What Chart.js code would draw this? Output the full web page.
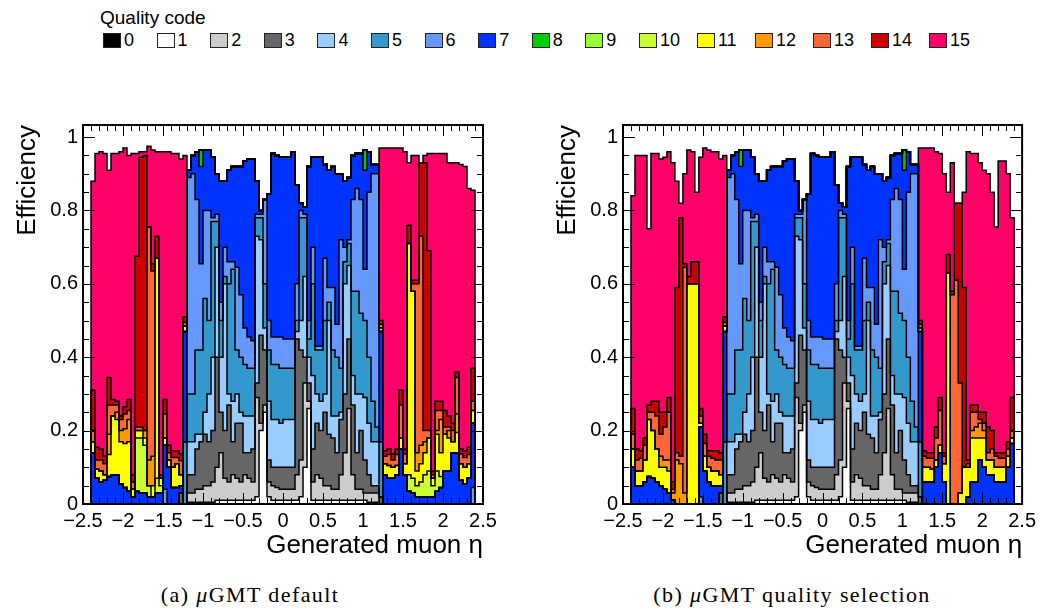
<!DOCTYPE html>
<html><head><meta charset="utf-8">
<script src="https://cdn.jsdelivr.net/npm/chart.js@4.4.1/dist/chart.umd.min.js"></script>
<style>
html,body{margin:0;padding:0;background:#fff;}
body{width:1041px;height:610px;position:relative;overflow:hidden;font-family:'Liberation Sans',Arial,sans-serif;color:#000;}
#legTitle{position:absolute;left:100px;top:8px;font-size:19px;line-height:20px;}
#legRow{position:absolute;left:103px;top:32px;height:17px;display:flex;}
.ent{display:flex;align-items:center;height:17px;}
.box{width:18px;height:15px;border:1px solid #222;box-sizing:border-box;margin-right:3px;}
.lab{font-size:18px;line-height:17px;}
canvas{position:absolute;}
#ca{left:0;top:100px;}
#cb{left:540px;top:100px;}
.cap{position:absolute;top:583px;font-family:'Liberation Serif','Times New Roman',serif;font-size:22px;line-height:24px;letter-spacing:1.4px;white-space:nowrap;transform:translateX(-50%);}
</style></head>
<body>
<div id="legTitle">Quality code</div>
<div id="legRow"></div>
<canvas id="ca" width="520" height="475"></canvas>
<canvas id="cb" width="501" height="475"></canvas>
<div class="cap" style="left:250px">(a) <i>μ</i>GMT default</div>
<div class="cap" style="left:792px">(b) <i>μ</i>GMT quality selection</div>
<script>
// ---- categories: lower edges of the generated-muon eta bins (width 0.05), upper edge of last bin
const binLowEdges = [
  -2.4,-2.35,-2.3,-2.25,-2.2,-2.15,-2.1,-2.05,-2.0,-1.95,-1.9,-1.85,-1.8,-1.75,-1.7,-1.65,-1.6,-1.55,-1.5,-1.45,-1.4,-1.35,-1.3,-1.25,
  -1.2,-1.15,-1.1,-1.05,-1.0,-0.95,-0.9,-0.85,-0.8,-0.75,-0.7,-0.65,-0.6,-0.55,-0.5,-0.45,-0.4,-0.35,-0.3,-0.25,-0.2,-0.15,-0.1,-0.05,
  0.0,0.05,0.1,0.15,0.2,0.25,0.3,0.35,0.4,0.45,0.5,0.55,0.6,0.65,0.7,0.75,0.8,0.85,0.9,0.95,1.0,1.05,1.1,1.15,
  1.2,1.25,1.3,1.35,1.4,1.45,1.5,1.55,1.6,1.65,1.7,1.75,1.8,1.85,1.9,1.95,2.0,2.05,2.1,2.15,2.2,2.25,2.3,2.35];
const etaUpperEdge = 2.4;
const qualityCodes = [0,1,2,3,4,5,6,7,8,9,10,11,12,13,14,15];
const codeColors = ['#000000','#ffffff','#cccccc','#666666','#99ccff','#3399cc','#6699ff','#0033ff',
  '#00cc00','#99ff33','#ccff33','#ffff00','#ff9900','#ff6633','#cc0000','#ff0066'];
const xTickValues = [-2.5,-2,-1.5,-1,-0.5,0,0.5,1,1.5,2,2.5];
const yTickValues = [0,0.2,0.4,0.6,0.8,1];

// ---- efficiency per quality code; rows: left endcap | barrel eta<0 | barrel eta>0 | right endcap
// series shared by both panels
const q0 = [0,0,0,0,0,0,0,0,0,0,0,0,0,0,0,0,0,0,0,0,0,0,0,0,
  0,0,0,0,0,0,0,0,0,0,0,0,0,0,0,0,0,0,0,0,0,0,0,0,
  0,0,0,0,0,0,0,0,0,0,0,0,0,0,0,0,0,0,0,0,0,0,0,0,
  0,0,0,0,0,0,0,0,0,0,0,0,0,0,0,0,0,0,0,0,0,0,0,0];
const q1 = [0,0,0,0,0,0,0,0,0,0,0,0,0,0,0,0,0,0,0,0,0,0,0,0,
  .005,.005,.005,.005,.005,.005,.005,.01,.01,.01,.01,.01,.01,.01,.01,.01,.01,.02,.2,.25,.02,.01,.01,.01,
  .01,.01,.01,.01,.02,.1,.26,.01,.01,.01,.01,.01,.01,.01,.01,.01,.01,.01,.01,.01,.01,.005,.005,.005,
  0,0,0,0,0,0,0,0,0,0,0,0,0,0,0,0,0,0,0,0,0,0,0,0];
const q2 = [0,0,0,0,0,0,0,0,0,0,0,0,0,0,0,0,0,0,0,0,0,0,0,0,
  .025,.025,.035,.035,.045,.045,.055,.09,.13,.06,.05,.07,.06,.05,.07,.06,.05,.27,.02,.02,.04,.04,.035,.03,
  .03,.03,.03,.07,.1,.23,.02,.05,.07,.06,.04,.04,.03,.03,.07,.13,.25,.07,.03,.03,.02,.025,.025,.025,
  0,0,0,0,0,0,0,0,0,0,0,0,0,0,0,0,0,0,0,0,0,0,0,0];
const q3 = [0,0,0,0,0,0,0,0,0,0,0,0,0,0,0,0,0,0,0,0,0,0,.03,0,
  .05,.05,.11,.13,.14,.12,.14,.3,.11,.13,.21,.09,.15,.16,.06,.07,.09,.04,.24,.15,.06,.05,.055,.06,
  .06,.06,.06,.37,.3,.07,.05,.09,.14,.13,.2,.14,.14,.1,.15,.16,.19,.19,.1,.16,.09,.05,.02,.02,
  .02,0,0,0,0,0,0,0,0,0,0,0,0,0,0,0,0,0,0,0,0,0,0,0];
const q4 = [0,0,0,0,0,0,0,0,0,0,0,0,0,0,0,0,0,0,0,0,0,0,0,0,
  .09,.09,.04,.02,.06,.13,.2,.3,.15,.4,.03,.11,.08,.03,.1,.1,.09,.4,.26,.06,.16,.13,.13,.12,
  .13,.13,.13,.02,.08,.22,.07,.2,.08,.08,.05,.31,.06,.1,.02,.3,.2,.08,.16,.1,.17,.14,.12,.12,
  0,0,0,0,0,0,0,0,0,0,0,0,0,0,0,0,0,0,0,0,0,0,0,0];
const q5 = [0,0,0,0,0,0,0,0,0,0,0,0,0,0,0,0,0,0,0,0,0,0,0,.17,
  .13,.13,.23,.23,.31,.2,.37,.07,.1,.02,.3,.36,.12,.15,.14,.13,.13,.05,.06,.12,.14,.15,.15,.15,
  .14,.14,.14,.03,.28,.16,.05,.25,.12,.14,.2,.05,.18,.16,.12,.06,.06,.23,.28,.22,.21,.18,.11,.04,
  .15,0,0,0,0,0,0,0,0,0,0,0,0,0,0,0,0,0,0,0,0,0,0,0];
const q8 = [0,0,0,0,0,0,0,0,0,0,0,0,0,0,0,0,0,0,0,0,0,0,0,0,
  0,0,0,.045,0,0,0,0,0,0,0,0,0,0,0,0,0,0,0,0,0,0,0,0,
  0,0,0,0,0,0,0,0,0,0,0,0,0,0,0,0,0,0,0,0,.055,0,0,0,
  0,0,0,0,0,0,0,0,0,0,0,0,0,0,0,0,0,0,0,0,0,0,0,0];
const q9 = [0,0,0,0,0,0,0,0,0,0,0,0,0,0,0,0,0,0,0,0,0,0,0,0,
  0,0,0,0,0,0,0,0,0,0,0,0,0,0,0,0,0,0,0,0,0,0,0,0,
  0,0,0,0,0,0,0,0,0,0,0,0,0,0,0,0,0,0,0,0,0,0,0,0,
  0,0,0,0,0,0,0,0,0,0,0,0,0,0,0,0,0,0,0,0,0,0,0,0];

// panel (a): uGMT default
const defaultQ6 = [0,0,0,0,0,0,0,0,0,0,0,0,0,0,0,0,0,0,.04,0,0,0,0,0,
  .59,.6,.41,.235,.24,.3,.01,.02,.05,.08,.06,.02,.225,.17,.1,.085,.075,.01,.01,.23,.08,.075,.075,.085,
  .08,.08,.08,.1,.02,.01,.05,.1,.01,.01,.17,.04,.17,.09,.35,.04,.01,.25,.28,.31,.14,.45,.62,.69,
  0,0,0,0,0,0,0,0,0,0,0,0,0,0,0,0,0,0,0,0,0,0,0,.045];
const defaultQ7 = [.14,.07,.06,.065,.075,.08,.08,.055,.045,.035,.02,.035,.03,.03,.02,.02,.03,.03,.12,.1,.045,.045,.02,.3,
  .02,.05,.13,.265,.165,.165,.165,.11,.33,.18,.25,.26,.275,.35,.455,.485,.495,.09,.01,0,.345,.5,.495,.49,
  .495,.495,.51,.27,.02,.02,.42,.245,.515,.515,.255,.32,.33,.41,.18,.18,.17,.12,.095,.125,.27,.11,.025,.025,
  .3,.08,.07,.07,.08,.15,.08,.035,.03,.02,.02,.02,.02,.02,.035,.045,.09,.09,.14,.14,.065,.055,.07,.175];
const defaultQ10 = [0,0,0,0,0,0,0,0,0,0,0,.145,.15,.13,.03,0,.04,.02,0,0,0,0,0,0,
  0,0,0,0,0,0,0,0,0,0,0,0,0,0,0,0,0,0,0,0,0,0,0,0,
  0,0,0,0,0,0,0,0,0,0,0,0,0,0,0,0,0,0,0,0,0,0,0,0,
  0,0,0,0,0,0,0,.045,.04,.03,.04,.06,.07,.03,.055,.03,0,0,0,0,0,0,0,0];
const defaultQ11 = [.03,.025,.03,.015,.06,.16,.15,.115,.12,.135,.02,.02,.02,.02,0,.03,.6,.02,.02,.02,.055,.065,.03,.015,
  0,0,0,0,0,0,0,0,0,0,0,0,0,0,0,0,0,0,0,0,0,0,0,0,
  0,0,0,0,0,0,0,0,0,0,0,0,0,0,0,0,0,0,0,0,0,0,0,0,
  .01,.03,.035,.03,.025,.03,.03,.63,.51,.04,.05,.06,.09,.02,.1,.065,.1,.09,.03,.055,.045,.045,.04,.035];
const defaultQ12 = [0,0,0,0,.055,0,.02,.03,.04,.06,0,0,0,.02,.07,.08,0,0,0,0,0,0,0,0,
  0,0,0,0,0,0,0,0,0,0,0,0,0,0,0,0,0,0,0,0,0,0,0,0,
  0,0,0,0,0,0,0,0,0,0,0,0,0,0,0,0,0,0,0,0,0,0,0,0,
  0,0,0,0,0,0,0,0,0,.05,.05,.03,0,0,.01,.09,0,.02,0,.05,0,0,0,0];
const defaultQ13 = [.03,.025,.03,.03,.08,.03,.02,.03,.04,.025,.02,.01,.01,0,.635,.505,0,0,.065,.02,.027,.017,.038,.01,
  0,0,0,0,0,0,0,0,0,0,0,0,0,0,0,0,0,0,0,0,0,0,0,0,
  0,0,0,0,0,0,0,0,0,0,0,0,0,0,0,0,0,0,0,0,0,0,0,0,
  .01,.02,.03,.02,.03,.09,.026,0,.02,.46,.57,.03,.02,.01,.055,.025,.02,.01,.03,.1,.026,.027,.025,.025];
const defaultQ14 = [.11,.035,.03,.02,.075,.015,.01,.01,.02,.03,.02,.465,.735,.75,0,.02,.06,.01,.04,.02,.018,.018,.018,.015,
  0,0,0,0,0,0,0,0,0,0,0,0,0,0,0,0,0,0,0,0,0,0,0,0,
  0,0,0,0,0,0,0,0,0,0,0,0,0,0,0,0,0,0,0,0,0,0,0,0,
  .01,.015,.015,.016,.015,.04,.014,.05,.01,.01,.2,.73,.49,.01,.025,.025,.045,.03,.02,.015,.014,.018,.02,.09];
const defaultQ15 = [.57,.8,.81,.825,.565,.67,.675,.72,.705,.665,.875,.28,.015,.01,.22,.31,.23,.88,.675,.8,.81,.81,.804,.44,
  0,0,0,0,0,0,0,0,0,0,0,0,0,0,0,0,0,0,0,0,0,0,0,0,
  0,0,0,0,0,0,0,0,0,0,0,0,0,0,0,0,0,0,0,0,0,0,0,0,
  .47,.825,.82,.834,.82,.66,.81,.17,.34,.34,0,.02,.265,.865,.675,.675,.7,.69,.71,.57,.775,.775,.705,.485];

// panel (b): uGMT quality selection
const selectionQ6 = [0,0,0,0,0,0,0,0,0,0,0,0,0,0,0,0,0,.02,0,0,0,0,0,0,
  .59,.6,.41,.235,.24,.3,.01,.02,.05,.08,.06,.02,.225,.17,.1,.085,.075,.01,.01,.23,.08,.075,.075,.085,
  .08,.08,.08,.1,.02,.01,.05,.1,.01,.01,.17,.04,.17,.09,.35,.04,.01,.25,.28,.31,.14,.45,.62,.69,
  0,0,0,0,0,0,0,0,0,0,0,0,0,0,0,0,0,0,0,0,0,0,0,0];
const selectionQ7 = [.1,.05,.05,.06,.075,.07,.06,.05,.04,.03,.01,0,0,0,0,0,0,.19,.09,.06,.05,.05,.02,.3,
  .02,.05,.13,.265,.165,.165,.165,.11,.33,.18,.25,.26,.275,.35,.455,.485,.495,.09,.01,0,.345,.5,.495,.49,
  .495,.495,.51,.27,.02,.02,.42,.245,.515,.515,.255,.32,.33,.41,.18,.18,.17,.12,.095,.125,.27,.11,.025,.025,
  .3,.06,.06,.06,.1,.14,.06,0,0,0,0,0,.02,.06,.06,.12,.1,.08,.08,.06,.06,.06,.1,.165];
const selectionQ10 = [0,0,0,0,0,0,0,0,0,0,0,0,0,0,0,0,0,0,0,0,0,0,0,0,
  0,0,0,0,0,0,0,0,0,0,0,0,0,0,0,0,0,0,0,0,0,0,0,0,
  0,0,0,0,0,0,0,0,0,0,0,0,0,0,0,0,0,0,0,0,0,0,0,0,
  0,0,0,0,0,0,0,0,0,0,0,0,0,0,0,0,0,0,0,0,0,0,0,0];
const selectionQ11 = [.05,.04,.04,.06,.155,.13,.09,.05,.06,.06,0,0,0,0,.6,.6,.6,.01,.04,.04,.04,.04,.03,.015,
  0,0,0,0,0,0,0,0,0,0,0,0,0,0,0,0,0,0,0,0,0,0,0,0,
  0,0,0,0,0,0,0,0,0,0,0,0,0,0,0,0,0,0,0,0,0,0,0,0,
  .01,.04,.04,.035,.02,.02,.05,.63,0,0,.03,.1,.08,.12,.12,.06,.08,.04,.04,.04,.04,.04,.03,.015];
const selectionQ12 = [0,0,0,0,0,0,0,.03,.02,.03,.02,.12,.11,.03,0,0,0,0,0,0,0,0,0,0,
  0,0,0,0,0,0,0,0,0,0,0,0,0,0,0,0,0,0,0,0,0,0,0,0,
  0,0,0,0,0,0,0,0,0,0,0,0,0,0,0,0,0,0,0,0,0,0,0,0,
  0,0,0,0,0,0,0,0,0,0,0,0,0,.02,.03,.04,.02,0,0,0,0,0,0,0];
const selectionQ13 = [.04,.03,.035,.04,.02,.05,.09,.06,.09,.13,.01,.02,.02,.615,0,0,0,.02,.035,.03,.035,.03,.04,.01,
  0,0,0,0,0,0,0,0,0,0,0,0,0,0,0,0,0,0,0,0,0,0,0,0,
  0,0,0,0,0,0,0,0,0,0,0,0,0,0,0,0,0,0,0,0,0,0,0,0,
  .01,.03,.025,.03,.06,.095,.02,0,.57,.61,.3,0,.01,.05,.04,.01,.02,.02,.03,.03,.025,.025,.02,.02];
const selectionQ14 = [.07,.03,.02,.02,.02,.03,.04,.06,.04,.04,.02,.45,.65,.01,.02,.06,.06,.02,.025,.015,.02,.025,.02,.015,
  0,0,0,0,0,0,0,0,0,0,0,0,0,0,0,0,0,0,0,0,0,0,0,0,
  0,0,0,0,0,0,0,0,0,0,0,0,0,0,0,0,0,0,0,0,0,0,0,0,
  .01,.015,.015,.015,.03,.035,.01,.05,.01,.21,.49,.49,.01,.02,.02,.02,.03,.07,.05,.01,.015,.015,.02,.09];
const selectionQ15 = [.58,.8,.805,.77,.48,.675,.675,.69,.695,.67,.87,.29,.04,.245,.345,.3,.19,.685,.78,.82,.815,.815,.8,.44,
  0,0,0,0,0,0,0,0,0,0,0,0,0,0,0,0,0,0,0,0,0,0,0,0,
  0,0,0,0,0,0,0,0,0,0,0,0,0,0,0,0,0,0,0,0,0,0,0,0,
  .47,.825,.83,.83,.75,.665,.76,.17,.35,0,0,.26,.84,.685,.685,.68,.66,.69,.65,.615,.795,.795,.73,.49];

const seriesDefault = [q0,q1,q2,q3,q4,q5,defaultQ6,defaultQ7,q8,q9,defaultQ10,defaultQ11,defaultQ12,defaultQ13,defaultQ14,defaultQ15];
const seriesSelection = [q0,q1,q2,q3,q4,q5,selectionQ6,selectionQ7,q8,q9,selectionQ10,selectionQ11,selectionQ12,selectionQ13,selectionQ14,selectionQ15];

// ---- legend (HTML, built from codes / colours)
const legRow = document.getElementById('legRow');
qualityCodes.forEach((c, k) => {
  const e = document.createElement('div');
  e.className = 'ent';
  e.style.width = (c < 10 ? 53.6 : 58) + 'px';
  e.innerHTML = '<div class="box" style="background:' + codeColors[k] + '"></div><span class="lab">' + c + '</span>';
  legRow.appendChild(e);
});

Chart.defaults.font.family = "'Liberation Sans', Arial, sans-serif";
Chart.defaults.color = '#000';

// stacked step histograms: each layer is a stepped line filled down to the layer below
function buildDatasets(series) {
  let cum = binLowEdges.map(() => 0);
  return series.map((vals, k) => {
    cum = cum.map((c, i) => c + vals[i]);
    const pts = [{x: binLowEdges[0], y: 0}];
    binLowEdges.forEach((e, i) => pts.push({x: e, y: cum[i]}));
    pts.push({x: etaUpperEdge, y: 0});
    return {
      label: 'Quality ' + qualityCodes[k], data: pts, stepped: 'before',
      fill: k === 0 ? 'origin' : '-1', backgroundColor: codeColors[k],
      borderColor: '#000', borderWidth: 1.5, pointRadius: 0, pointHoverRadius: 0, tension: 0
    };
  });
}

const fmt = v => {
  const r = Math.round(v * 100) / 100;
  if (r === 0) return '0';
  return (r < 0 ? '\u2212' : '') + String(Math.abs(r));
};

const frameTicks = {
  id: 'frameTicks',
  afterDatasetsDraw(chart) {
    const {ctx, chartArea: a, scales: {x, y}} = chart;
    ctx.save();
    ctx.strokeStyle = '#000';
    ctx.lineWidth = 1;
    ctx.beginPath();
    for (let k = -25; k <= 25; k++) {
      const px = Math.round(x.getPixelForValue(k / 10)) + 0.5;
      const len = (k % 5 === 0) ? 11 : 6;
      ctx.moveTo(px, a.bottom); ctx.lineTo(px, a.bottom - len);
      ctx.moveTo(px, a.top); ctx.lineTo(px, a.top + len);
    }
    for (let k = 0; k <= 20; k++) {
      const py = Math.round(y.getPixelForValue(k * 0.05)) + 0.5;
      const len = (k % 4 === 0) ? 12 : 6;
      ctx.moveTo(a.left, py); ctx.lineTo(a.left + len, py);
      ctx.moveTo(a.right, py); ctx.lineTo(a.right - len, py);
    }
    ctx.stroke();
    ctx.lineWidth = 2;
    ctx.strokeRect(a.left, a.top, a.right - a.left, a.bottom - a.top);
    ctx.restore();
  }
};

function makeChart(id, series, padRight) {
  return new Chart(document.getElementById(id), {
    type: 'line',
    data: {datasets: buildDatasets(series)},
    plugins: [frameTicks],
    options: {
      responsive: false, animation: false, devicePixelRatio: 1,
      layout: {padding: {top: 25, right: padRight, left: 0, bottom: 0}},
      plugins: {legend: {display: false}, tooltip: {enabled: false}, filler: {drawTime: 'beforeDatasetsDraw'}},
      scales: {
        x: {
          type: 'linear', min: -2.5, max: 2.5,
          grid: {display: false, drawTicks: false}, border: {display: false},
          afterBuildTicks: s => { s.ticks = xTickValues.map(v => ({value: v})); },
          ticks: {autoSkip: false, maxRotation: 0, padding: 5, font: {size: 20}, color: '#000', callback: fmt},
          title: {display: true, text: 'Generated muon \u03b7', align: 'end', font: {size: 26}, color: '#000', padding: {top: 0, bottom: 14}},
          afterFit: s => { s.height = 71; }
        },
        y: {
          type: 'linear', min: 0, max: 1.033,
          grid: {display: false, drawTicks: false}, border: {display: false},
          afterBuildTicks: s => { s.ticks = yTickValues.map(v => ({value: v})); },
          ticks: {padding: 5, font: {size: 20}, color: '#000', callback: fmt},
          title: {display: true, text: 'Efficiency', align: 'end', font: {size: 26}, color: '#000', padding: {top: 12, bottom: 0}},
          afterFit: s => { s.width = 83; }
        }
      }
    }
  });
}

makeChart('ca', seriesDefault, 37);
makeChart('cb', seriesSelection, 18);
</script>
</body></html>
